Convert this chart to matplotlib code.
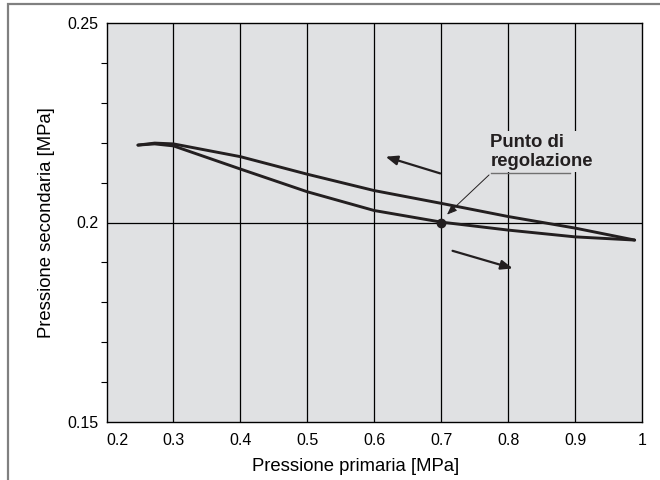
import matplotlib.pyplot as plt
from matplotlib.patches import Rectangle
from matplotlib.ticker import MultipleLocator

plt.rcParams["font.family"] = ["Liberation Sans", "DejaVu Sans"]

# curve: rising and falling primary pressure
p_up = [0.247, 0.272, 0.30, 0.40, 0.50, 0.60, 0.70, 0.80, 0.90, 0.989]
s_up = [0.2194, 0.2199, 0.2197, 0.2165, 0.2121, 0.2080, 0.2048, 0.2015, 0.1986, 0.1956]
p_down = [0.247, 0.272, 0.30, 0.40, 0.50, 0.60, 0.70, 0.80, 0.90, 0.989]
s_down = [0.2194, 0.2197, 0.2192, 0.2134, 0.2077, 0.2030, 0.2001, 0.1981, 0.1964, 0.1956]

set_point = (0.7, 0.2)
x_ticks = [0.2, 0.3, 0.4, 0.5, 0.6, 0.7, 0.8, 0.9, 1.0]
x_labels = ["0.2", "0.3", "0.4", "0.5", "0.6", "0.7", "0.8", "0.9", "1"]
y_ticks = [0.15, 0.2, 0.25]
y_labels = ["0.15", "0.2", "0.25"]

ink = "#231f20"
bg = "#e0e1e3"

fig = plt.figure(figsize=(6.6, 4.8), dpi=100)
fig.patches.append(Rectangle((8 / 660, -0.05), 1.0, 1.05 - 4 / 480, transform=fig.transFigure,
                             fill=False, edgecolor="#808080", linewidth=1.6))
ax = fig.add_axes([106.5 / 660, 1 - 422 / 480, (642 - 106.5) / 660, (422 - 23) / 480])
ax.set_facecolor(bg)

ax.set_xlim(0.2, 1.0)
ax.set_ylim(0.15, 0.25)

for x in x_ticks[1:-1]:
    ax.axvline(x, color="black", lw=0.9, zorder=1)
ax.axhline(0.2, color="black", lw=0.9, zorder=1)

ax.plot(p_up, s_up, color=ink, lw=2.1, solid_joinstyle="round", solid_capstyle="round", zorder=3)
ax.plot(p_down, s_down, color=ink, lw=2.1, solid_joinstyle="round", solid_capstyle="round", zorder=3)
ax.plot(*set_point, "o", color=ink, ms=6, zorder=4)

# direction arrows
ax.annotate("", xy=(0.613, 0.2167), xytext=(0.7025, 0.2121),
            arrowprops=dict(arrowstyle="-|>,head_length=0.5,head_width=0.2", color=ink,
                            lw=1.6, mutation_scale=14), zorder=3)
ax.annotate("", xy=(0.811, 0.1883), xytext=(0.713, 0.1931),
            arrowprops=dict(arrowstyle="-|>,head_length=0.5,head_width=0.2", color=ink,
                            lw=1.6, mutation_scale=14), zorder=3)

# set point label with leader
ax.text(0.7735, 0.2177, "Punto di\nregolazione", fontsize=13.3, fontweight="bold",
        color=ink, ha="left", va="center", linespacing=1.2, zorder=5,
        bbox=dict(boxstyle="square,pad=0.12", facecolor=bg, edgecolor="none"))
ax.plot([0.7745, 0.893], [0.2124, 0.2124], color="#707070", lw=1.0, zorder=5)
ax.annotate("", xy=(0.7057, 0.2015), xytext=(0.7745, 0.2124),
            arrowprops=dict(arrowstyle="-|>,head_length=0.5,head_width=0.2", color=ink,
                            lw=0.7, mutation_scale=12), zorder=5)

ax.set_xticks(x_ticks)
ax.set_xticklabels(x_labels)
ax.get_xticklabels()[0].set_horizontalalignment("left")
ax.set_yticks(y_ticks)
ax.set_yticklabels(y_labels)
ax.yaxis.set_minor_locator(MultipleLocator(0.01))
ax.tick_params(axis="x", length=0, labelsize=11.5, pad=8)
ax.tick_params(axis="y", which="major", length=0, labelsize=11.5, pad=6)
ax.tick_params(axis="y", which="minor", length=4, width=0.8)
for s in ax.spines.values():
    s.set_linewidth(1.0)
    s.set_zorder(6)

ax.set_xlabel("Pressione primaria [MPa]", fontsize=13.3, labelpad=9)
ax.xaxis.set_label_coords(0.466, -0.09)
ax.set_ylabel("Pressione secondaria [MPa]", fontsize=13.3, labelpad=9)

fig.savefig("out.png", dpi=100)
